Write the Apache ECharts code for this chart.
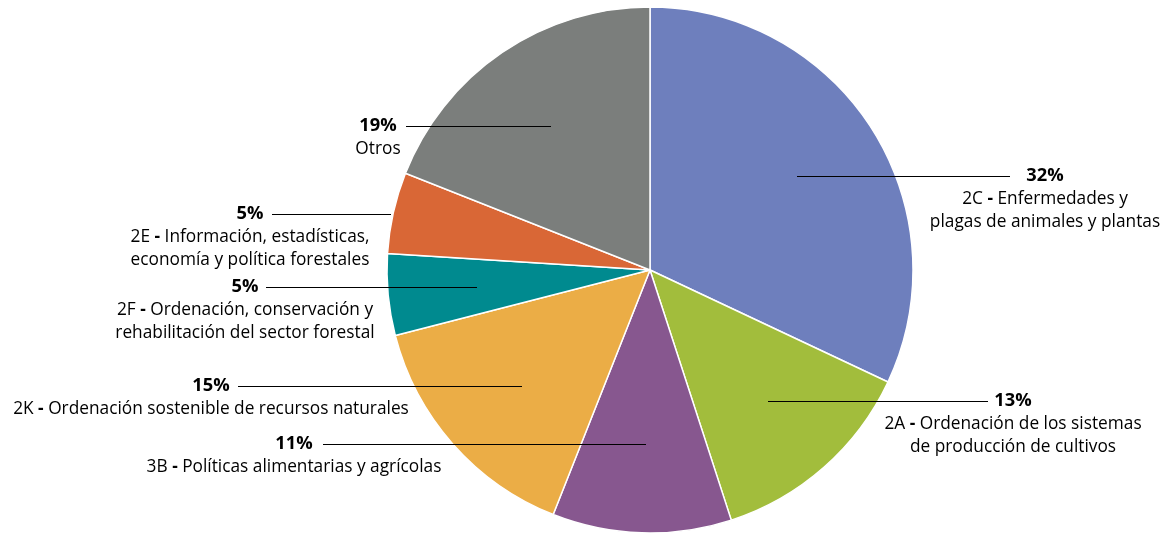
<!DOCTYPE html>
<html><head><meta charset="utf-8">
<script src="https://cdn.jsdelivr.net/npm/echarts@6/dist/echarts.min.js"></script>
<style>html,body{margin:0;padding:0;background:#fff}#c{width:1163px;height:533px}</style>
</head><body><div id="c"></div>
<script>
const codes = ['2C', '2A', '3B', '2K', '2F', '2E', ''];
const descLines = [
  ['Enfermedades y', 'plagas de animales y plantas'],
  ['Ordenación de los sistemas', 'de producción de cultivos'],
  ['Políticas alimentarias y agrícolas'],
  ['Ordenación sostenible de recursos naturales'],
  ['Ordenación, conservación y', 'rehabilitación del sector forestal'],
  ['Información, estadísticas,', 'economía y política forestales'],
  ['Otros']
];
const values = [32, 13, 11, 15, 5, 5, 19];
const colors = ['#6e7fbd', '#a2bd3c', '#87578f', '#ebad46', '#008a8f', '#d96736', '#7b7e7c'];
// label placement: text-block centre x, first-line y, leader line from x1 to x2
const labelPos = [
  {cx: 1045, y: 176, x1: 797, x2: 1010},
  {cx: 1013, y: 401, x1: 768, x2: 988},
  {cx: 294, y: 444, x1: 646, x2: 323},
  {cx: 211, y: 386, x1: 522, x2: 238},
  {cx: 245, y: 287, x1: 477, x2: 266},
  {cx: 250, y: 214, x1: 391, x2: 272},
  {cx: 378, y: 126, x1: 551, x2: 406}
];
const FONT = 'Open Sans';
const FS = 17.3;
const chart = echarts.init(document.getElementById('c'), null, {renderer: 'canvas'});
const data = values.map((v, i) => ({name: codes[i] || descLines[i][0], value: v, itemStyle: {color: colors[i]}}));
const base = {
  type: 'pie',
  center: [650, 270],
  radius: [0, 263],
  startAngle: 90,
  clockwise: true,
  avoidLabelOverlap: false,
  emphasis: {disabled: true}
};
chart.setOption({
  animation: false,
  series: [
    Object.assign({}, base, {
      z: 2,
      data: data,
      itemStyle: {borderColor: '#fff', borderWidth: 1.5},
      label: {show: false},
      labelLine: {show: false}
    }),
    Object.assign({}, base, {
      z: 3,
      silent: true,
      data: values.map((v, i) => ({name: data[i].name, value: v})),
      itemStyle: {color: 'rgba(0,0,0,0)', borderWidth: 0},
      label: {
        show: true,
        position: 'outside',
        align: 'center',
        fontFamily: FONT,
        fontSize: FS,
        color: '#000',
        lineHeight: 23,
        formatter: function (p) {
          const i = p.dataIndex;
          const lines = descLines[i];
          let s = '{p|' + values[i] + '%}\n';
          if (codes[i]) {
            s += '{t|' + codes[i] + ' }{d|-}{t| ' + lines[0] + '}';
          } else {
            s += '{t|' + lines[0] + '}';
          }
          for (let k = 1; k < lines.length; k++) s += '\n{t|' + lines[k] + '}';
          return s;
        },
        rich: {
          p: {fontFamily: FONT, fontSize: FS + 1, fontWeight: 'bold', color: '#000', lineHeight: 23},
          t: {fontFamily: FONT, fontSize: FS, color: '#000', lineHeight: 23},
          d: {fontFamily: FONT, fontSize: FS, fontWeight: 'bold', color: '#000', lineHeight: 23}
        }
      },
      labelLine: {show: true, lineStyle: {color: '#000', width: 1.2}},
      labelLayout: function (params) {
        const lp = labelPos[params.dataIndex];
        return {
          x: lp.cx,
          y: lp.y - 11.5,
          align: 'center',
          verticalAlign: 'top',
          labelLinePoints: [[lp.x1, lp.y + 0.5], [lp.x2, lp.y + 0.5]]
        };
      }
    })
  ]
});
</script>
</body></html>
